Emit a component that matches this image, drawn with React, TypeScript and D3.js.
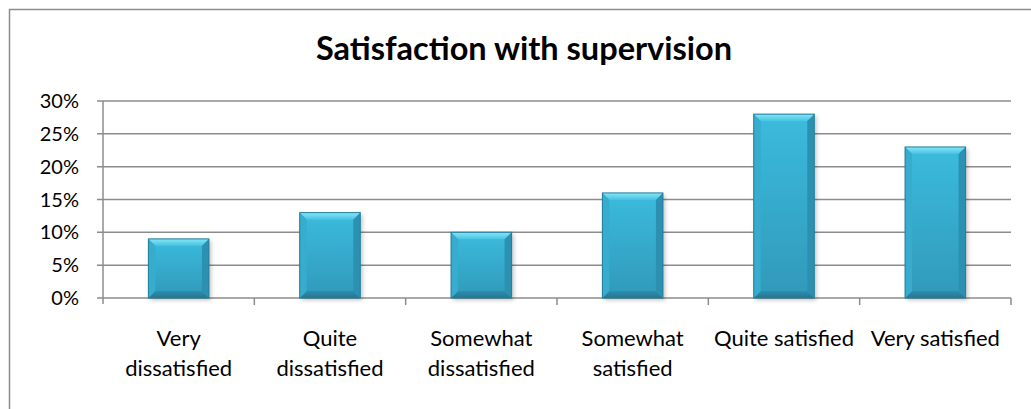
import React, { useMemo } from "react";
import * as d3 from "d3";

const title = "Satisfaction with supervision";
const categories = [
  "Very dissatisfied",
  "Quite dissatisfied",
  "Somewhat dissatisfied",
  "Somewhat satisfied",
  "Quite satisfied",
  "Very satisfied",
];
const values = [0.09, 0.13, 0.1, 0.16, 0.28, 0.23];
const yTicks = [0, 0.05, 0.1, 0.15, 0.2, 0.25, 0.3];

const W = 1031;
const H = 409;
const FONT = "Lato, 'Open Sans', sans-serif";

function wrapLabel(text: string, maxW: number, font: string): string[] {
  const canvas = document.createElement("canvas");
  const ctx = canvas.getContext("2d")!;
  ctx.font = font;
  const words = text.split(" ");
  const lines: string[] = [];
  let cur = "";
  for (const w of words) {
    const test = cur ? cur + " " + w : w;
    if (ctx.measureText(test).width > maxW && cur) {
      lines.push(cur);
      cur = w;
    } else cur = test;
  }
  if (cur) lines.push(cur);
  return lines;
}

export default function App() {
  const left = 103;
  const right = 1011;
  const top = 101;
  const bottom = 298;

  const x = d3
    .scaleBand<string>()
    .domain(categories)
    .range([left, right])
    .paddingInner(0.6)
    .paddingOuter(0.3);
  const y = d3.scaleLinear().domain([0, 0.3]).range([bottom, top]);
  const step = x.step();
  const fmt = d3.format(".0%");

  const labelSize = 22;
  const labelFont = `${labelSize}px Lato`;
  const wrapped = useMemo(
    () => categories.map((c) => wrapLabel(c, step - 3, labelFont)),
    [step]
  );

  const grid = "#8c8c8c";
  const bev = 7;

  return (
    <svg
      width={W}
      height={H}
      style={{ position: "absolute", left: 0, top: 0, background: "#fff" }}
      fontFamily={FONT}
    >
      <defs>
        <linearGradient id="body" x1="0" y1="0" x2="0" y2="1">
          <stop offset="0" stopColor="#3bbbdd" />
          <stop offset="1" stopColor="#3199ba" />
        </linearGradient>
        <linearGradient id="topBev" x1="0" y1="0" x2="0" y2="1">
          <stop offset="0" stopColor="#86e6f8" />
          <stop offset="1" stopColor="#45c3e2" />
        </linearGradient>
        <linearGradient id="botBev" x1="0" y1="0" x2="0" y2="1">
          <stop offset="0" stopColor="#2d8fae" />
          <stop offset="1" stopColor="#237691" />
        </linearGradient>
        <filter id="shadow" x="-20%" y="-10%" width="140%" height="130%">
          <feDropShadow dx="2" dy="2" stdDeviation="2" floodColor="#000" floodOpacity="0.25" />
        </filter>
      </defs>
      <rect x={9.5} y={9.5} width={1040} height={420} fill="#fff" stroke="#8c8c8c" strokeWidth={1.5} />

      <text
        x={524}
        y={60}
        textAnchor="middle"
        fontSize={32.5}
        fontWeight="bold"
        fill="#000"
      >
        {title}
      </text>

      {/* gridlines */}
      {yTicks.map((t) => (
        <g key={t}>
          <line x1={left - 6} x2={right} y1={y(t)} y2={y(t)} stroke={grid} strokeWidth={1.5} />
          <text x={79} y={y(t)} dy="0.35em" textAnchor="end" fontSize={20} fill="#000">
            {fmt(t)}
          </text>
        </g>
      ))}
      {/* y axis */}
      <line x1={left} x2={left} y1={top} y2={bottom + 6} stroke={grid} strokeWidth={1.5} />
      {/* x ticks */}
      {categories.map((c, i) => (
        <line
          key={c}
          x1={left + step * (i + 1)}
          x2={left + step * (i + 1)}
          y1={bottom}
          y2={bottom + 7}
          stroke={grid}
          strokeWidth={1.5}
        />
      ))}

      {/* bars */}
      {categories.map((c, i) => {
        const x0 = x(c)!;
        const bw = x.bandwidth();
        const x1 = x0 + bw;
        const y0 = y(values[i]);
        const y1 = y(0);
        const b = Math.min(bev, (y1 - y0) / 2);
        return (
          <g key={c}>
            <rect x={x0} y={y0} width={bw} height={y1 - y0} fill="url(#body)" filter="url(#shadow)" />
            <polygon
              points={`${x0},${y0} ${x1},${y0} ${x1 - b},${y0 + b} ${x0 + b},${y0 + b}`}
              fill="url(#topBev)"
            />
            <polygon
              points={`${x0},${y1} ${x1},${y1} ${x1 - b},${y1 - b} ${x0 + b},${y1 - b}`}
              fill="url(#botBev)"
            />
            <polygon
              points={`${x0},${y0} ${x0 + b},${y0 + b} ${x0 + b},${y1 - b} ${x0},${y1}`}
              fill="#36acce"
            />
            <polygon
              points={`${x1},${y0} ${x1 - b},${y0 + b} ${x1 - b},${y1 - b} ${x1},${y1}`}
              fill="#2c91b1"
            />
            <rect
              x={x0}
              y={y0}
              width={bw}
              height={y1 - y0}
              fill="none"
              stroke="#237d98"
              strokeWidth={1}
            />
          </g>
        );
      })}

      {/* x labels */}
      {categories.map((c, i) => (
        <text
          key={c}
          x={x(c)! + x.bandwidth() / 2}
          y={346}
          textAnchor="middle"
          fontSize={labelSize}
          fill="#000"
        >
          {wrapped[i].map((ln, j) => (
            <tspan key={j} x={x(c)! + x.bandwidth() / 2} dy={j === 0 ? 0 : 29.5}>
              {ln}
            </tspan>
          ))}
        </text>
      ))}
    </svg>
  );
}
